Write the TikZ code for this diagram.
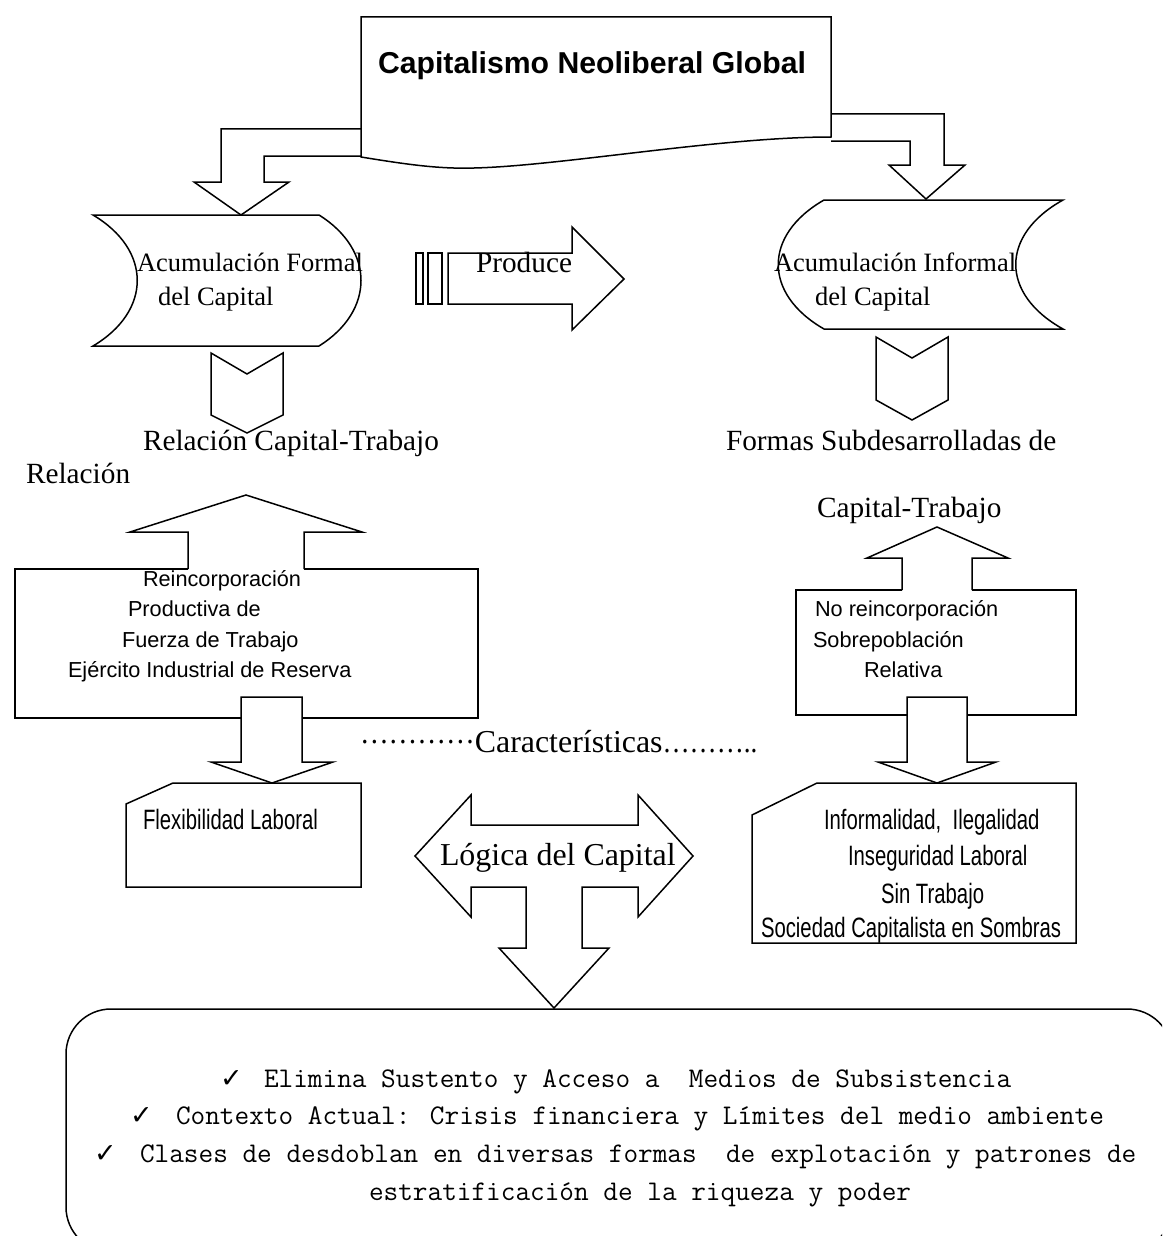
\documentclass[tikz,border=0pt]{standalone}
\usepackage{graphicx}
\usepackage{fontspec}
\setmainfont{Liberation Serif}
\newfontfamily\sansf{Liberation Sans}
\newfontfamily\symf{DejaVu Sans}
\newcommand{\cond}[1]{\scalebox{0.725}[1]{\sansf\fontsize{28}{32}\selectfont #1}}
\newcommand{\mono}[1]{{\ttfamily\fontsize{28.45}{32}\selectfont #1}}
\begin{document}
\begin{tikzpicture}[x=1pt,y=-1pt,line width=1.5pt,line join=miter,
  lbl/.style={anchor=base west,inner sep=0pt,outer sep=0pt},
  serS/.style={font=\fontsize{26.5}{30}\selectfont},
  serM/.style={font=\fontsize{29.3}{33}\selectfont},
  serL/.style={font=\fontsize{31.9}{36}\selectfont},
  sanM/.style={font=\sansf\fontsize{21.7}{25}\selectfont},
  chk/.style={font=\symf\bfseries\fontsize{27}{30}\selectfont}]
\useasboundingbox (0,0) rectangle (1162,1236);
\fill[white] (0,0) rectangle (1162,1236);
\clip (0,0) rectangle (1162,1236);

% bent arrows from top box
\draw[fill=white] (361,129) -- (221,129) -- (221,182) -- (194,182) -- (241,215) -- (289,182) -- (264,182) -- (264,156) -- (361,156);
\draw[fill=white] (831,114) -- (944,114) -- (944,165) -- (965,165) -- (926,199) -- (889,165) -- (910,165) -- (910,141) -- (831,141);
% top box (document shape)
\draw[fill=white] (361,17) -- (831,17) -- (831,137) .. controls (720,137) and (560,166) .. (474,168) .. controls (440,169) and (410,165) .. (361,157) -- cycle;
\node[lbl,font=\sansf\bfseries\fontsize{30.2}{34}\selectfont] (title) at (378,74) {Capitalismo Neoliberal Global};

% storage shapes
\draw (93,215) -- (319,215) .. controls (375,250) and (375,311) .. (319,346) -- (93,346) .. controls (152,311) and (152,250) .. (93,215) -- cycle;
\draw (824,200) -- (1063,200) .. controls (1000,235) and (1000,294) .. (1063,329) -- (824,329) .. controls (763,294) and (763,235) .. (824,200) -- cycle;
\node[lbl,serS] (af1) at (137,271) {Acumulación Formal};
\node[lbl,serS] (af2) at (158,305) {del Capital};
\node[lbl,serS] (ai1) at (774,271) {Acumulación Informal};
\node[lbl,serS] (ai2) at (815,305) {del Capital};

% striped arrow "Produce"
\draw (416,253) rectangle (423,304);
\draw (428,253) rectangle (442,304);
\draw (448,253) -- (572,253) -- (572,227) -- (624,279) -- (572,330) -- (572,304) -- (448,304) -- cycle;
\node[lbl,serM] (prod) at (476,272) {Produce};

% chevrons
\draw (211,353) -- (247,374) -- (283,353) -- (283,415) -- (247,433) -- (211,415) -- cycle;
\draw (876,337) -- (912,358) -- (948,337) -- (948,400) -- (912,420) -- (876,400) -- cycle;

\node[lbl,serM] (rct) at (143,450) {Relación Capital-Trabajo};
\node[lbl,serM] (fsd) at (726,450) {Formas Subdesarrolladas de};
\node[lbl,serM] (rel) at (26,483) {Relación};
\node[lbl,serM] (ctr) at (817,517) {Capital-Trabajo};

% left box with up and down arrows
\draw (188,569) -- (15,569) -- (15,718) -- (478,718) -- (478,569) -- (304,569);
\draw[fill=white] (188,569) -- (188,532) -- (130,532) -- (246,495) -- (362,532) -- (304,532) -- (304,569);
\draw[fill=white] (241,697) -- (302,697) -- (302,762) -- (333,762) -- (272,783) -- (211,762) -- (241,762) -- cycle;
\node[lbl,sanM] (l1) at (143,586) {Reincorporación};
\node[lbl,sanM] (l2) at (128,616) {Productiva de};
\node[lbl,sanM] (l3) at (122,647) {Fuerza de Trabajo};
\node[lbl,sanM] (l4) at (68,677) {Ejército Industrial de Reserva};

% right box with up and down arrows
\draw (902,590) -- (796,590) -- (796,715) -- (1076,715) -- (1076,590) -- (972,590);
\draw[fill=white] (902,590) -- (902,558) -- (867,558) -- (937,527) -- (1008,558) -- (972,558) -- (972,590);
\draw[fill=white] (907,697) -- (967,697) -- (967,762) -- (996,762) -- (937,783) -- (878,762) -- (907,762) -- cycle;
\node[lbl,sanM] (r1) at (815,616) {No reincorporación};
\node[lbl,sanM] (r2) at (813,647) {Sobrepoblación};
\node[lbl,sanM] (r3) at (864,677) {Relativa};

% Caracteristicas
\node[lbl,serL] (car) at (360,752) {\raisebox{0.27em}{\scalebox{0.9}[1]{…………}}Características\scalebox{0.85}[1]{………..}};

% bottom-left and bottom-right cut-corner boxes
\draw (173,783) -- (361,783) -- (361,887) -- (126,887) -- (126,804) -- cycle;
\node[lbl] (flex) at (143,829) {\cond{Flexibilidad Laboral}};
\draw (817,783) -- (1076,783) -- (1076,943) -- (752,943) -- (752,815) -- cycle;
\node[lbl] (b1) at (824,829) {\cond{Informalidad,\ \ Ilegalidad}};
\node[lbl] (b2) at (848,865) {\cond{Inseguridad Laboral}};
\node[lbl] (b3) at (881,903) {\cond{Sin Trabajo}};
\node[lbl] (b4) at (761,937) {\cond{Sociedad Capitalista en Sombras}};

% Logica del Capital arrow
\draw[fill=white] (415,856) -- (471,795) -- (471,825) -- (638,825) -- (638,795) -- (693,856) -- (638,917) -- (638,887) -- (582,887) -- (582,948) -- (609,948) -- (554,1008) -- (499,948) -- (526,948) -- (526,887) -- (471,887) -- (471,917) -- cycle;
\node[lbl,serL] (log) at (440,865) {Lógica del Capital};

% bottom rounded box
\draw[rounded corners=45pt] (66,1009) rectangle (1172,1252);
\node[lbl,chk] (c1) at (220,1087) {✓};
\node[lbl] (t1) at (264,1087) {\mono{Elimina Sustento y Acceso a\ \ Medios de Subsistencia}};
\node[lbl,chk] (c2) at (130,1124) {✓};
\node[lbl] (t2) at (176,1124) {\mono{Contexto Actual: Crisis financiera y Límites del medio ambiente}};
\node[lbl,chk] (c3) at (94,1162) {✓};
\node[lbl] (t3) at (140,1162) {\mono{Clases de desdoblan en diversas formas\ \ de explotación y patrones de}};
\node[lbl] (t4) at (369,1200) {\mono{estratificación de la riqueza y poder}};
\end{tikzpicture}
\end{document}
